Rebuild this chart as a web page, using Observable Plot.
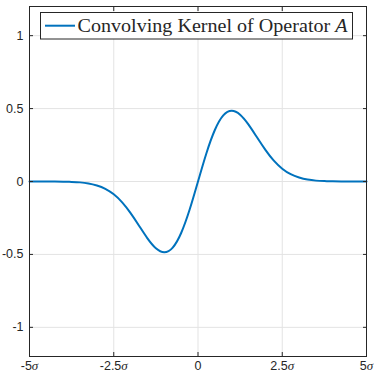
<!DOCTYPE html>
<html>
<head>
<meta charset="utf-8">
<script src="https://cdn.jsdelivr.net/npm/d3@7"></script>
<script src="https://cdn.jsdelivr.net/npm/@observablehq/plot@0.6"></script>
<style>
  html, body { margin: 0; padding: 0; background: #fff; }
  #chart { width: 374px; height: 374px; }
</style>
</head>
<body>
<div id="chart"></div>
<script>
const xValues = [-5, -4.75, -4.5, -4.25, -4, -3.75, -3.5, -3.25, -3, -2.75, -2.5, -2.25, -2, -1.75, -1.5, -1.25, -1, -0.75, -0.5, -0.25,
  0, 0.25, 0.5, 0.75, 1, 1.25, 1.5, 1.75, 2, 2.25, 2.5, 2.75, 3, 3.25, 3.5, 3.75, 4, 4.25, 4.5, 4.75, 5];
const yValues = [0, 0, 0, 0, -0.001, -0.003, -0.006, -0.013, -0.027, -0.050, -0.088, -0.143, -0.217, -0.303, -0.390, -0.458, -0.485, -0.453, -0.353, -0.194,
  0, 0.194, 0.353, 0.453, 0.485, 0.458, 0.390, 0.303, 0.217, 0.143, 0.088, 0.050, 0.027, 0.013, 0.006, 0.003, 0.001, 0, 0, 0, 0];
const xTicks = [-5, -2.5, 0, 2.5, 5];
const yTicks = [-1, -0.5, 0, 0.5, 1];
const legendLabel = "Convolving Kernel of Operator ";
const legendVar = "A";

const data = xValues.map((x, i) => ({x, y: yValues[i]}));
const axisColor = "#262626";
const gridColor = "#e3e3e3";
const lineColor = "#0072BD";

const chart = Plot.plot({
  width: 374,
  height: 374,
  marginLeft: 29,
  marginRight: 8,
  marginTop: 6,
  marginBottom: 18,
  style: {fontFamily: "'Liberation Sans', Arial, sans-serif", fontSize: "12.5px", color: axisColor, background: "#fff"},
  x: {domain: [-5, 5]},
  y: {domain: [-1.2, 1.2]},
  marks: [
    Plot.gridX(xTicks, {stroke: gridColor, strokeOpacity: 1, strokeWidth: 1}),
    Plot.gridY(yTicks, {stroke: gridColor, strokeOpacity: 1, strokeWidth: 1}),
    Plot.line(data, {x: "x", y: "y", stroke: lineColor, strokeWidth: 2, curve: "natural"}),
    Plot.axisX(xTicks, {anchor: "bottom", tickSize: -4, tickPadding: 9, stroke: axisColor, fill: axisColor,
      tickFormat: d => d === 0 ? "0" : `${d}σ`, label: null}),
    Plot.axisX(xTicks, {anchor: "top", tickSize: -4, stroke: axisColor, tickFormat: () => "", label: null}),
    Plot.axisY(yTicks, {anchor: "left", tickSize: -4, tickPadding: 10, stroke: axisColor, fill: axisColor,
      tickFormat: d => `${d}`, label: null}),
    Plot.axisY(yTicks, {anchor: "right", tickSize: -4, stroke: axisColor, tickFormat: () => "", label: null}),
    Plot.frame({stroke: axisColor, strokeWidth: 1})
  ]
});

// sigma in italic serif in x tick labels
d3.select(chart).selectAll('g[aria-label="x-axis tick label"] text').each(function() {
  const t = this.textContent;
  if (t.endsWith("σ")) {
    const num = t.slice(0, -1);
    const sel = d3.select(this);
    sel.text(null);
    sel.append("tspan").text(num);
    sel.append("tspan").attr("font-family", "'Liberation Serif', 'DejaVu Serif', serif")
      .attr("font-style", "italic").attr("font-size", 13).text("σ");
  }
});

// legend inside the plot area
const svg = d3.select(chart);
const lg = svg.append("g").attr("class", "legend").attr("text-anchor", "start");
lg.append("rect").attr("x", 40.5).attr("y", 12.5).attr("width", 312).attr("height", 26.5)
  .attr("fill", "#fff").attr("stroke", axisColor).attr("stroke-width", 1);
lg.append("line").attr("x1", 45).attr("x2", 75).attr("y1", 25.7).attr("y2", 25.7)
  .attr("stroke", lineColor).attr("stroke-width", 2);
const lt = lg.append("text").attr("x", 77.5).attr("y", 31.5).attr("text-anchor", "start")
  .attr("font-family", "'Liberation Serif', 'Times New Roman', serif").attr("font-size", 18.5).attr("fill", axisColor)
  .attr("textLength", 270).attr("lengthAdjust", "spacingAndGlyphs");
lt.append("tspan").text(legendLabel);
lt.append("tspan").attr("font-style", "italic").text(legendVar);

document.getElementById("chart").appendChild(chart);
</script>
</body>
</html>
